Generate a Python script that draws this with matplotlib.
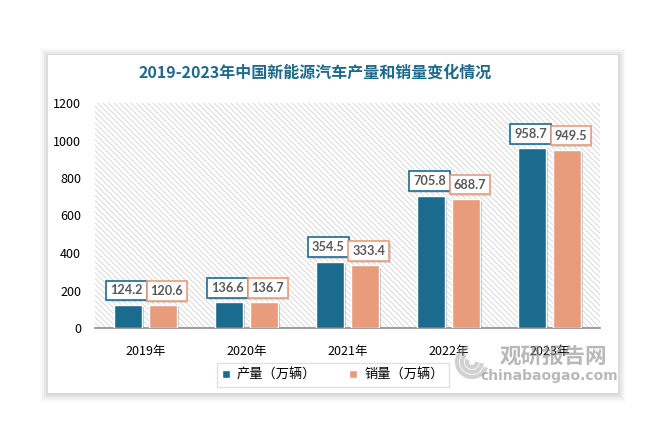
import matplotlib
matplotlib.use("Agg")
import matplotlib.pyplot as plt
import matplotlib.patheffects as pe
from matplotlib.patches import Rectangle, Arc
import numpy as np

plt.rcParams['font.family'] = ['Noto Sans CJK SC', 'DejaVu Sans']
plt.rcParams['hatch.color'] = '#d4d4d4'
plt.rcParams['hatch.linewidth'] = 0.6

years = ['2019年', '2020年', '2021年', '2022年', '2023年']
production = [124.2, 136.6, 354.5, 705.8, 958.7]
sales = [120.6, 136.7, 333.4, 688.7, 949.5]
series_names = ['产量（万辆）', '销量（万辆）']
colors = ['#1b6b8f', '#e89c7c']
title = '2019-2023年中国新能源汽车产量和销量变化情况'

W, H = 670, 445
fig = plt.figure(figsize=(W / 100, H / 100), dpi=100)
fig.patch.set_facecolor('white')

# card with soft shadow
cx0, cx1, cy0, cy1 = 48, 618, 55, 393
for i, a in enumerate([0.05, 0.04, 0.03, 0.02]):
    g = (i + 1) * 2
    fig.patches.append(Rectangle(((cx0 - g) / W, 1 - (cy1 + g + 1) / H), (cx1 - cx0 + 2 * g) / W,
                                 (cy1 - cy0 + 2 * g) / H, transform=fig.transFigure,
                                 facecolor='black', alpha=a, edgecolor='none', zorder=-2))
fig.patches.append(Rectangle((cx0 / W, 1 - cy1 / H), (cx1 - cx0) / W, (cy1 - cy0) / H,
                             transform=fig.transFigure, facecolor='white', edgecolor='none', zorder=-1))

ax = fig.add_axes([95 / W, 1 - 328 / H, (600 - 95) / W, (328 - 103) / H])
ax.set_zorder(1)
ax.set_facecolor('white')
ax.add_patch(Rectangle((0, 0), 1, 1, transform=ax.transAxes, facecolor='white',
                       edgecolor='#d4d4d4', hatch='\\\\\\\\\\\\', linewidth=0, zorder=0))

x = np.arange(len(years))
w = 0.28
off = 0.175
shadow = [pe.SimplePatchShadow(offset=(1.5, -1.5), shadow_rgbFace='#000000', alpha=0.22), pe.Normal()]
b1 = ax.bar(x - off, production, w, color=colors[0], edgecolor='white', linewidth=1.0,
            label=series_names[0], zorder=3, path_effects=shadow)
b2 = ax.bar(x + off, sales, w, color=colors[1], edgecolor='white', linewidth=1.0,
            label=series_names[1], zorder=3, path_effects=shadow)

for bars, vals, c, dx in [(b1, production, colors[0], -1.0), (b2, sales, colors[1], 2.5)]:
    for rect, v in zip(bars, vals):
        ax.annotate(f'{v}', (rect.get_x() + rect.get_width() / 2, v), xytext=(dx, 6),
                    textcoords='offset points', ha='center', va='bottom',
                    fontsize=9.2, fontweight='bold', color='#595959', zorder=5,
                    family=['Lato', 'DejaVu Sans'],
                    bbox=dict(boxstyle='square,pad=0.3', facecolor='white', edgecolor=c, linewidth=1.2,
                              path_effects=[pe.SimplePatchShadow(offset=(1.2, -1.2), alpha=0.18), pe.Normal()]))

ax.set_xlim(-0.5, 4.5)
ax.set_ylim(0, 1200)
ax.set_yticks(range(0, 1201, 200))
ax.set_xticks(x)
ax.set_xticklabels(years)
for s in ['top', 'right', 'left']:
    ax.spines[s].set_visible(False)
ax.spines['bottom'].set_color('#8c8c8c')
ax.spines['bottom'].set_linewidth(1.2)
ax.tick_params(axis='y', length=0, pad=10, labelsize=9, colors='#000000')
ax.tick_params(axis='x', length=0, pad=12, labelsize=9, colors='#000000')

fig.text(315 / W, 1 - 73 / H, title, ha='center', va='center', fontsize=11.5,
         fontweight='bold', color='#1f6a8a')

leg = fig.legend(handles=[b1, b2], labels=series_names, loc='center',
                 bbox_to_anchor=(333 / W, 1 - 375 / H), ncol=2, frameon=True,
                 fontsize=9.5, handlelength=0.6, handleheight=0.6, columnspacing=2.5,
                 fancybox=False, edgecolor='#d9d9d9', borderpad=0.4, handletextpad=0.5)
leg.get_frame().set_linewidth(1.0)
for h in leg.legend_handles:
    h.set_path_effects([])

# watermark
fig.text(553 / W, 1 - 356 / H, '观研报告网', ha='center', va='center', fontsize=15.5,
         fontweight='bold', color='#8a8a8a', alpha=0.6, zorder=10)
fig.text(549 / W, 1 - 376 / H, 'chinabaogao.com', ha='center', va='center', fontsize=10,
         fontweight='bold', color='#8a8a8a', alpha=0.6, family=['DejaVu Sans'], zorder=10)
for (r, t1, t2) in [(15, 100, 330), (10, 120, 350), (5, 140, 360)]:
    fig.patches.append(Arc((472 / W, 1 - 362 / H), 2 * r / W, 2 * r / H, theta1=t1, theta2=t2,
                           transform=fig.transFigure, color='#9a9a9a', alpha=0.45, lw=3, zorder=10))

fig.savefig('out.png', dpi=100)
